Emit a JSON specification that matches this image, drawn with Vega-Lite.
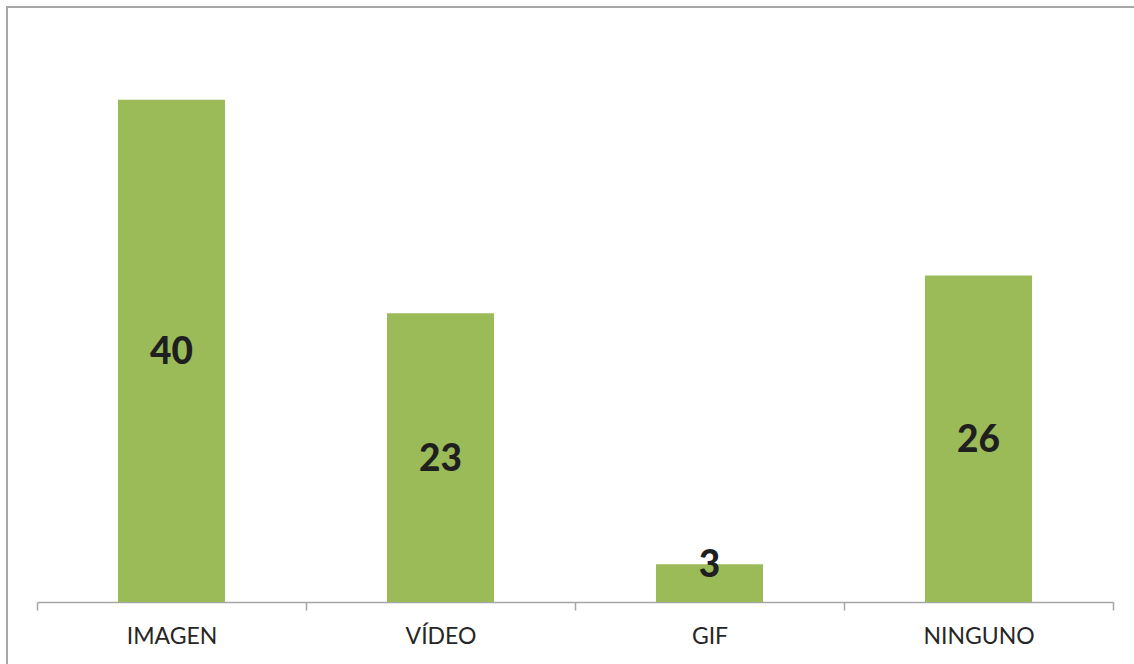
{
  "$schema": "https://vega.github.io/schema/vega-lite/v6.json",
  "width": 1130,
  "height": 660,
  "autosize": "none",
  "padding": {"left": 7, "top": 7, "right": 0, "bottom": 0},
  "background": "white",
  "config": {"view": {"stroke": "#a6a6a6", "strokeWidth": 2}},
  "data": {
    "values": [
      {"tipo": "IMAGEN", "valor": 40},
      {"tipo": "VÍDEO", "valor": 23},
      {"tipo": "GIF", "valor": 3},
      {"tipo": "NINGUNO", "valor": 26}
    ]
  },
  "encoding": {
    "x": {
      "field": "tipo",
      "type": "nominal",
      "sort": null,
      "scale": {"range": [30, 1106], "paddingInner": 0, "paddingOuter": 0},
      "axis": {
        "title": null,
        "orient": "bottom",
        "offset": -65,
        "domainColor": "#a6a6a6",
        "domainWidth": 1.5,
        "tickColor": "#a6a6a6",
        "tickWidth": 1.5,
        "tickSize": 8,
        "tickBand": "extent",
        "labelFont": "Lato",
        "labelFontSize": 23,
        "labelColor": "#262626",
        "labelPadding": 15,
        "labelAngle": 0
      }
    }
  },
  "layer": [
    {
      "mark": {"type": "bar", "color": "#9BBB59", "width": {"band": 0.398}},
      "encoding": {
        "y": {
          "field": "valor",
          "type": "quantitative",
          "scale": {"domain": [0, 45], "range": [595, 30]},
          "axis": null
        }
      }
    },
    {
      "transform": [
        {"calculate": "datum.valor < 6 ? datum.valor : datum.valor / 2", "as": "pos"}
      ],
      "mark": {
        "type": "text",
        "font": "Lato",
        "fontWeight": 900,
        "fontSize": 37,
        "color": "#1f1f1f",
        "baseline": "middle",
        "dy": 2
      },
      "encoding": {
        "y": {
          "field": "pos",
          "type": "quantitative",
          "scale": {"domain": [0, 45], "range": [595, 30]},
          "axis": null
        },
        "text": {"field": "valor", "type": "quantitative"}
      }
    }
  ]
}
